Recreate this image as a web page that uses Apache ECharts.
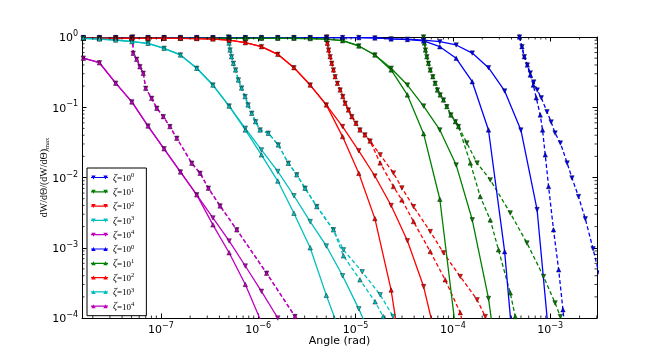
<!DOCTYPE html>
<html>
<head>
<meta charset="utf-8">
<script src="https://cdn.jsdelivr.net/npm/echarts@6/dist/echarts.min.js"></script>
<style>
html, body { margin: 0; padding: 0; background: #fff; }
#chart { width: 664px; height: 354px; }
</style>
</head>
<body>
<div id="chart"></div>
<script>
// angles (rad) where the solid curves carry a marker
const angle = [1.60e-8, 2.34e-8, 3.44e-8, 5.04e-8, 7.39e-8, 1.08e-7, 1.59e-7, 2.34e-7,
  3.43e-7, 5.03e-7, 7.38e-7, 1.08e-6, 1.59e-6, 2.33e-6, 3.42e-6, 5.01e-6, 7.36e-6,
  1.08e-5, 1.58e-5, 2.32e-5, 3.41e-5, 5.0e-5, 7.34e-5, 1.08e-4, 1.58e-4, 2.32e-4,
  3.40e-4, 4.99e-4, 7.32e-4, 1.07e-3, 1.58e-3, 2.31e-3];

// solid curves (one value per angle above), down = ▼ markers, up = ▲ markers
const blueDown = [0.98, 0.98, 0.98, 0.98, 0.98, 0.98, 0.98, 0.98, 0.98, 0.98, 0.98, 0.98,
  0.98, 0.98, 0.98, 0.98, 0.98, 0.98, 0.97, 0.94, 0.93, 0.9, 0.857, 0.77, 0.59, 0.366,
  0.171, 0.0475, 0.0035, 1.2e-5];
const blueUp = [0.98, 0.98, 0.98, 0.98, 0.98, 0.98, 0.98, 0.98, 0.98, 0.98, 0.98, 0.98,
  0.98, 0.98, 0.98, 0.98, 0.98, 0.98, 0.97, 0.94, 0.92, 0.88, 0.728, 0.497, 0.231, 0.0475,
  0.00088, 2e-6];
const greenDown = [0.96, 0.96, 0.96, 0.96, 0.96, 0.96, 0.96, 0.96, 0.96, 0.96, 0.96, 0.96,
  0.96, 0.96, 0.95, 0.93, 0.886, 0.745, 0.555, 0.359, 0.207, 0.104, 0.0475, 0.0151, 0.0025,
  0.00019, 4e-6];
const greenUp = [0.96, 0.96, 0.96, 0.96, 0.96, 0.96, 0.96, 0.96, 0.96, 0.96, 0.96, 0.96,
  0.96, 0.96, 0.95, 0.93, 0.886, 0.745, 0.555, 0.34, 0.15, 0.042, 0.0049, 6e-5];
const redDown = [0.96, 0.96, 0.96, 0.96, 0.96, 0.96, 0.958, 0.95, 0.937, 0.9, 0.83, 0.728,
  0.567, 0.366, 0.207, 0.108, 0.053, 0.024, 0.0105, 0.004, 0.00126, 0.00028, 3e-5];
const redUp = [0.96, 0.96, 0.96, 0.96, 0.96, 0.96, 0.958, 0.95, 0.937, 0.9, 0.83, 0.728,
  0.567, 0.366, 0.207, 0.108, 0.0382, 0.0115, 0.0026, 0.00025, 8e-6];
const cyanDown = [0.958, 0.937, 0.906, 0.86, 0.814, 0.69, 0.555, 0.359, 0.207, 0.104,
  0.0502, 0.0247, 0.0122, 0.0055, 0.00236, 0.00106, 0.0004, 0.000135, 4e-5];
const cyanUp = [0.958, 0.937, 0.906, 0.86, 0.814, 0.69, 0.555, 0.359, 0.207, 0.104,
  0.0475, 0.021, 0.0089, 0.0031, 0.001, 0.00021, 5e-5];
const magentaDown = [0.5, 0.43, 0.22, 0.119, 0.054, 0.0256, 0.012, 0.00566, 0.00266,
  0.00125, 0.00055, 0.00024, 0.0001, 4e-5];
const magentaUp = [0.5, 0.43, 0.22, 0.119, 0.054, 0.0256, 0.012, 0.00566, 0.00212,
  0.00085, 0.0003, 8.7e-5, 2.5e-5];

// dashed curves, [angle, value]
const blueDashDown = [[4.83e-4, 1], [5.12e-4, 0.728], [5.41e-4, 0.525], [5.81e-4, 0.4],
  [6.23e-4, 0.308], [6.76e-4, 0.229], [7.35e-4, 0.176], [8.09e-4, 0.136], [9.25e-4, 0.0866],
  [1.02e-3, 0.0618], [1.12e-3, 0.043], [1.27e-3, 0.031], [1.49e-3, 0.0161], [1.67e-3, 0.00987],
  [1.95e-3, 0.00535], [2.29e-3, 0.00258], [2.75e-3, 0.000965], [3.19e-3, 0.000412]];
const blueDashUp = [[4.83e-4, 1], [5.12e-4, 0.728], [5.41e-4, 0.525], [5.81e-4, 0.4],
  [6.23e-4, 0.288], [6.69e-4, 0.207], [7.18e-4, 0.136], [7.89e-4, 0.0777], [8.33e-4, 0.0475],
  [8.88e-4, 0.021], [9.61e-4, 0.00743], [1.08e-3, 0.0018], [1.22e-3, 0.000485],
  [1.35e-3, 0.000131], [1.43e-3, 5.77e-5]];
const greenDashDown = [[4.99e-5, 1], [5.1e-5, 0.822], [5.22e-5, 0.653], [5.4e-5, 0.525],
  [5.61e-5, 0.423], [5.85e-5, 0.34], [6.22e-5, 0.272], [6.57e-5, 0.219], [6.94e-5, 0.176],
  [7.4e-5, 0.15], [8.0e-5, 0.127], [8.67e-5, 0.102], [9.53e-5, 0.0777], [1.06e-4, 0.0624],
  [1.14e-4, 0.053], [1.39e-4, 0.031], [1.77e-4, 0.0161], [2.42e-4, 0.00924],
  [3.88e-4, 0.00313], [5.76e-4, 0.00117], [8.53e-4, 0.000389], [1.12e-3, 0.000164],
  [1.27e-3, 0.000105], [1.43e-3, 5.77e-5]];
const greenDashUp = [[4.99e-5, 1], [5.1e-5, 0.822], [5.22e-5, 0.653], [5.4e-5, 0.525],
  [5.61e-5, 0.423], [5.85e-5, 0.34], [6.22e-5, 0.272], [6.57e-5, 0.219], [6.94e-5, 0.176],
  [7.4e-5, 0.15], [8.0e-5, 0.127], [8.67e-5, 0.102], [9.53e-5, 0.0777], [1.06e-4, 0.0624],
  [1.14e-4, 0.053], [1.51e-4, 0.0161], [1.91e-4, 0.00535], [2.42e-4, 0.00249],
  [2.94e-4, 0.000933], [3.88e-4, 0.000228], [4.37e-4, 0.000105], [4.69e-4, 5.77e-5]];
const redDashDown = [[5.07e-6, 1], [5.13e-6, 0.814], [5.29e-6, 0.653], [5.48e-6, 0.525],
  [5.7e-6, 0.423], [5.93e-6, 0.34], [6.17e-6, 0.272], [6.51e-6, 0.219], [6.95e-6, 0.176],
  [7.4e-6, 0.142], [7.82e-6, 0.114], [8.45e-6, 0.0916], [9.16e-6, 0.0735], [1.01e-5, 0.0592],
  [1.11e-5, 0.0475], [1.25e-5, 0.0404], [1.41e-5, 0.033], [1.79e-5, 0.021], [2.45e-5, 0.0116],
  [2.99e-5, 0.00711], [3.94e-5, 0.00385], [5.85e-5, 0.0017], [8.0e-5, 0.000846],
  [1.19e-4, 0.000389], [1.77e-4, 0.000182], [2.15e-4, 0.000105], [2.42e-4, 5.77e-5]];
const redDashUp = [[5.07e-6, 1], [5.13e-6, 0.814], [5.29e-6, 0.653], [5.48e-6, 0.525],
  [5.7e-6, 0.423], [5.93e-6, 0.34], [6.17e-6, 0.272], [6.51e-6, 0.219], [6.95e-6, 0.176],
  [7.4e-6, 0.142], [7.82e-6, 0.114], [8.45e-6, 0.0916], [9.16e-6, 0.0735], [1.01e-5, 0.0592],
  [1.11e-5, 0.0475], [1.25e-5, 0.0404], [1.41e-5, 0.033], [1.79e-5, 0.0161],
  [2.45e-5, 0.00743], [2.99e-5, 0.0048], [3.94e-5, 0.00236], [5.85e-5, 0.000883],
  [8.33e-5, 0.000349], [1.19e-4, 0.000119], [1.34e-4, 5.77e-5]];
const cyanDashDown = [[4.94e-7, 1], [5.02e-7, 0.822], [5.14e-7, 0.653], [5.32e-7, 0.525],
  [5.56e-7, 0.423], [5.86e-7, 0.34], [6.26e-7, 0.245], [6.75e-7, 0.188], [7.33e-7, 0.142],
  [7.87e-7, 0.108], [8.59e-7, 0.0822], [9.4e-7, 0.0624], [1.045e-6, 0.0475], [1.27e-6, 0.0427],
  [1.61e-6, 0.0291], [2.04e-6, 0.016], [2.49e-6, 0.0109], [3.03e-6, 0.00705], [4.0e-6, 0.00385],
  [5.93e-6, 0.0018], [7.51e-6, 0.000933], [1.17e-5, 0.000454], [1.79e-5, 0.000214],
  [2.43e-5, 0.000105], [2.74e-5, 6.8e-5]];
const cyanDashUp = [[4.94e-7, 1], [5.02e-7, 0.822], [5.14e-7, 0.653], [5.32e-7, 0.525],
  [5.56e-7, 0.423], [5.86e-7, 0.34], [6.26e-7, 0.245], [6.75e-7, 0.188], [7.33e-7, 0.142],
  [7.87e-7, 0.108], [8.59e-7, 0.0822], [9.4e-7, 0.0624], [1.045e-6, 0.0475], [1.27e-6, 0.0427],
  [1.61e-6, 0.0291], [2.04e-6, 0.016], [2.49e-6, 0.0109], [3.03e-6, 0.00705], [4.0e-6, 0.00385],
  [5.93e-6, 0.0018], [7.51e-6, 0.000767], [1.11e-5, 0.000349], [1.59e-5, 0.00017],
  [1.92e-5, 0.000105], [2.16e-5, 6.8e-5]];
const magentaDash = [[5.14e-8, 1], [5.2e-8, 0.586], [5.65e-8, 0.482], [6.1e-8, 0.378],
  [6.6e-8, 0.305], [7.0e-8, 0.186], [8.05e-8, 0.134], [9.1e-8, 0.0968], [1.06e-7, 0.0735],
  [1.24e-7, 0.053], [1.46e-7, 0.0362], [2.08e-7, 0.016], [2.53e-7, 0.0115], [3.08e-7, 0.00705],
  [4.06e-7, 0.00394], [6.03e-7, 0.0018], [1.22e-6, 0.000435], [2.39e-6, 0.000105],
  [3.03e-6, 5.77e-5]];

const zetaExp = ['0', '1', '2', '3', '4'];
const colors = ['#0000ff', '#008000', '#ff0000', '#00bfbf', '#bf00bf'];
const solidDown = [blueDown, greenDown, redDown, cyanDown, magentaDown];
const solidUp = [blueUp, greenUp, redUp, cyanUp, magentaUp];
const dashDown = [blueDashDown, greenDashDown, redDashDown, cyanDashDown, magentaDash];
const dashUp = [blueDashUp, greenDashUp, redDashUp, cyanDashUp, magentaDash];

const xMin = 1.55e-8, xMax = 3.02e-3, yMin = 1e-4, yMax = 1;

// legend icons: short line with a marker at each end, like the matplotlib legend
const iconDown = 'path://M0,2.4L17,2.4L17,3.6L0,3.6Z M0.3,1L4.7,1L2.5,5Z M12.3,1L16.7,1L14.5,5Z';
const iconUp = 'path://M0,2.4L17,2.4L17,3.6L0,3.6Z M0.3,5L2.5,1L4.7,5Z M12.3,5L14.5,1L16.7,5Z';

function withAngle(ys) {
  return ys.map((y, i) => [angle[i], y]);
}

function curve(name, data, color, down, dashed) {
  return {
    name: name,
    type: 'line',
    data: data,
    symbol: 'triangle',
    symbolSize: 4.5,
    symbolRotate: down ? 180 : 0,
    showAllSymbol: true,
    clip: true,
    silent: true,
    lineStyle: { color: color, width: 1.3, type: dashed ? [4, 2.5] : 'solid' },
    itemStyle: { color: color, borderColor: '#000', borderWidth: 0.4 },
    emphasis: { disabled: true }
  };
}

const series = [];
const legendItems = [];
colors.forEach((c, i) => {
  series.push(curve('dash-d' + i, dashDown[i], c, true, true));
  series.push(curve('dash-u' + i, dashUp[i], c, false, true));
});
colors.forEach((c, i) => {
  series.push(curve('d' + i, withAngle(solidDown[i]), c, true, false));
  legendItems.push({ name: 'd' + i, icon: iconDown });
});
colors.forEach((c, i) => {
  series.push(curve('u' + i, withAngle(solidUp[i]), c, false, false));
  legendItems.push({ name: 'u' + i, icon: iconUp });
});

// minor ticks at 2..9 x 10^n on all four sides, placed through the axes
const minorX = [], minorY = [];
for (let e = -8; e <= -3; e++) {
  for (let k = 2; k <= 9; k++) {
    const v = k * Math.pow(10, e);
    if (v > xMin && v < xMax) minorX.push([v, yMin]);
  }
}
for (let e = -4; e <= -1; e++) {
  for (let k = 2; k <= 9; k++) minorY.push([xMin, k * Math.pow(10, e)]);
}
function tickSeries(data, vertical) {
  return {
    type: 'custom',
    silent: true,
    clip: false,
    z: 5,
    data: data,
    renderItem: (params, api) => {
      const s = { stroke: '#000', lineWidth: 0.8 };
      if (vertical) {
        const b = api.coord([api.value(0), yMin]);
        const t = api.coord([api.value(0), yMax]);
        return { type: 'group', children: [
          { type: 'line', shape: { x1: b[0], y1: b[1], x2: b[0], y2: b[1] - 2.5 }, style: s },
          { type: 'line', shape: { x1: t[0], y1: t[1], x2: t[0], y2: t[1] + 2.5 }, style: s }
        ] };
      }
      const l = api.coord([xMin, api.value(1)]);
      const r = api.coord([xMax, api.value(1)]);
      return { type: 'group', children: [
        { type: 'line', shape: { x1: l[0], y1: l[1], x2: l[0] + 2.5, y2: l[1] }, style: s },
        { type: 'line', shape: { x1: r[0], y1: r[1], x2: r[0] - 2.5, y2: r[1] }, style: s }
      ] };
    }
  };
}
series.push(tickSeries(minorX, true));
series.push(tickSeries(minorY, false));

function powLabel(v) {
  const e = Math.round(Math.log10(v));
  return '{b|10}{s|' + (e < 0 ? '\u2212' + (-e) : e) + '}';
}
const powRich = {
  b: { fontSize: 11, fontFamily: 'DejaVu Sans', color: '#000', verticalAlign: 'bottom' },
  s: { fontSize: 8, fontFamily: 'DejaVu Sans', color: '#000', verticalAlign: 'top', padding: [0, 0, 6, 0] }
};

const frameLine = { show: true, lineStyle: { color: '#000', width: 1 } };
const ticksIn = { show: true, inside: true, length: 4.5, lineStyle: { color: '#000', width: 1 } };

const chart = echarts.init(document.getElementById('chart'));
chart.setOption({
  animation: false,
  backgroundColor: '#fff',
  grid: { left: 82, right: 67, top: 37, bottom: 36, containLabel: false },
  legend: {
    data: legendItems,
    orient: 'vertical',
    left: 87,
    top: 168,
    itemWidth: 17,
    itemHeight: 5,
    itemGap: 3.3,
    symbolRotate: 0,
    padding: [4, 12, 4, 4],
    borderColor: '#000',
    borderWidth: 1,
    borderRadius: 0,
    backgroundColor: '#fff',
    selectedMode: false,
    itemStyle: { borderWidth: 0 },
    formatter: name => '{i|ζ}{n|=10}{s|' + zetaExp[+name.slice(-1)] + '}',
    textStyle: {
      color: '#000',
      rich: {
        i: { fontFamily: 'Liberation Serif', fontStyle: 'italic', fontSize: 10, color: '#000', verticalAlign: 'bottom' },
        n: { fontFamily: 'Liberation Serif', fontSize: 9, color: '#000', verticalAlign: 'bottom' },
        s: { fontFamily: 'Liberation Serif', fontSize: 6.5, color: '#000', verticalAlign: 'top', padding: [0, 0, 4, 0] }
      }
    }
  },
  xAxis: [{
    type: 'log', logBase: 10, min: xMin, max: xMax, position: 'bottom',
    axisLine: frameLine, axisTick: ticksIn, splitLine: { show: false },
    axisLabel: { formatter: powLabel, rich: powRich, margin: 4, showMinLabel: false, showMaxLabel: false },
    name: 'Angle (rad)', nameLocation: 'middle', nameGap: 18, nameMoveOverlap: false,
    nameTextStyle: { fontFamily: 'DejaVu Sans', fontSize: 11, color: '#000' }
  }, {
    type: 'log', logBase: 10, min: xMin, max: xMax, position: 'top',
    axisLine: frameLine, axisTick: ticksIn, splitLine: { show: false },
    axisLabel: { show: false }
  }],
  yAxis: [{
    type: 'log', logBase: 10, min: yMin, max: yMax, position: 'left',
    axisLine: frameLine, axisTick: ticksIn, splitLine: { show: false },
    axisLabel: { formatter: powLabel, rich: powRich, margin: 4 },
    name: '{a|dW/dΘ/(dW/dΘ)}{m|max}', nameLocation: 'middle', nameRotate: 90, nameGap: 31,
    nameMoveOverlap: false,
    nameTextStyle: {
      rich: {
        a: { fontFamily: 'Liberation Serif', fontSize: 10, color: '#000', verticalAlign: 'top', padding: [0, 0, 2, 0] },
        m: { fontFamily: 'Liberation Serif', fontSize: 6.5, color: '#000', verticalAlign: 'bottom' }
      }
    }
  }, {
    type: 'log', logBase: 10, min: yMin, max: yMax, position: 'right',
    axisLine: frameLine, axisTick: ticksIn, splitLine: { show: false },
    axisLabel: { show: false }
  }],
  series: series
});
</script>
</body>
</html>
